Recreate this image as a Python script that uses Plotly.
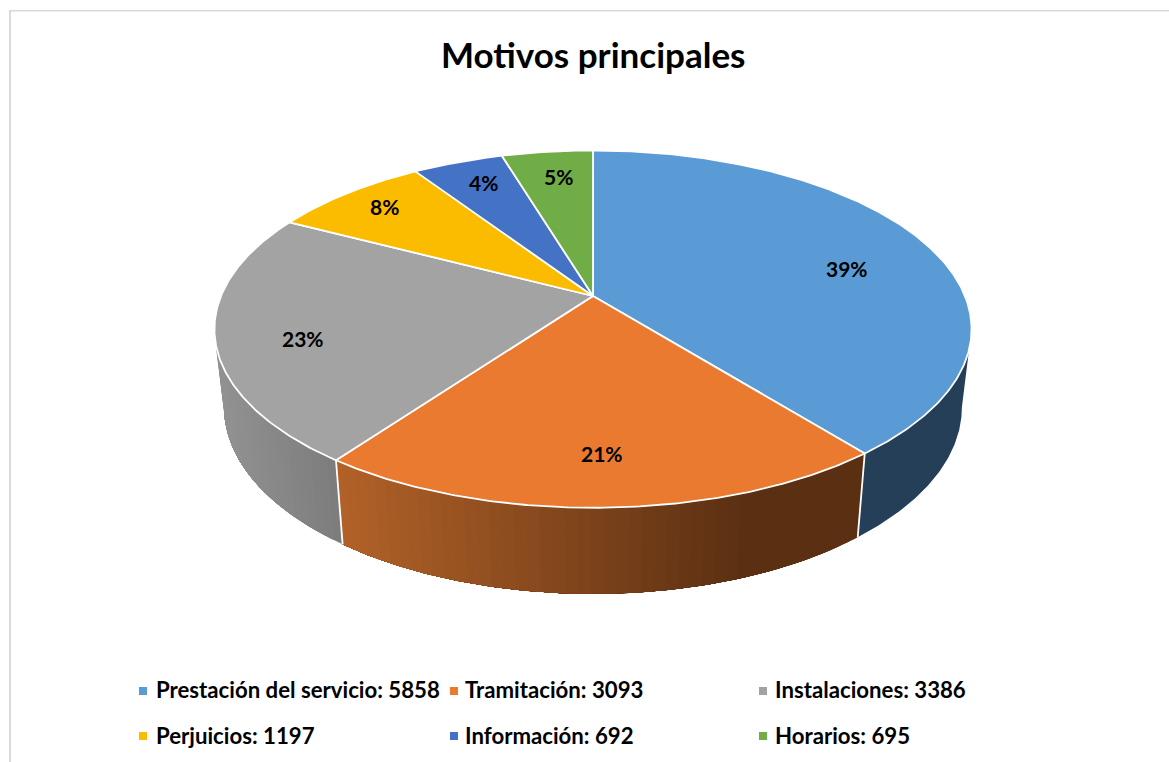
import numpy as np
import plotly.graph_objects as go

# ---- data ----
categories = ["Prestación del servicio", "Tramitación", "Instalaciones", "Perjuicios", "Información", "Horarios"]
values = [5858, 3093, 3386, 1197, 692, 695]
percent_labels = ["39%", "21%", "23%", "8%", "4%", "5%"]
colors = ["#5B9BD5", "#EA7A30", "#A3A3A3", "#FBBC00", "#4472C4", "#70AD47"]

# ---- layout of the drawing (pixel space of the page) ----
W, H = 1169, 762
label_xy = [(847, 268), (602, 453), (303, 338), (384, 206), (483, 182), (558, 176)]
legend_cols = [143, 454, 763]
legend_rows = [691, 736]
legend_text_cols = [154, 463, 773]
legend_text_rows = [689, 735]
FONT = "Lato, Carlito, Calibri, sans-serif"

# perspective projection of the pie's top and bottom discs
CX = 593
TOP = dict(y0=296.0, a=372.0, b=172.5, k=0.1854)
BOT = dict(y0=373.0, a=362.5, b=180.0, k=0.185)


def project(theta, d):
    """theta: radians clockwise from 12 o'clock, on disc d."""
    u, v = np.sin(theta), np.cos(theta)
    w = 1 + d["k"] * v
    return CX + d["a"] * u / w, d["y0"] - d["b"] * v / w


def mix(c1, c2, t):
    t = min(max(t, 0.0), 1.0)
    r = [round(a + (b - a) * t) for a, b in zip(c1, c2)]
    return f"rgb({r[0]},{r[1]},{r[2]})"


def side_color(i, x):
    if i == 0:
        return "rgb(36,63,87)"
    if i == 1:
        return mix((178, 98, 40), (90, 47, 18), (x - 343) / (745 - 343))
    return mix((146, 146, 146), (125, 125, 125), (x - 225) / (340 - 225))


fractions = np.array(values, dtype=float) / sum(values)
edges = np.concatenate([[0.0], np.cumsum(fractions)]) * 2 * np.pi

fig = go.Figure()


def wall(a0, a1, col):
    th = np.linspace(a0, a1, max(4, int((a1 - a0) / np.radians(0.5))))
    xt, yt = project(th, TOP)
    xb, yb = project(th[::-1], BOT)
    fig.add_trace(go.Scatter(x=np.concatenate([xt, xb]), y=np.concatenate([yt, yb]), mode="lines",
                             fill="toself", fillcolor=col, line=dict(width=0),
                             hoverinfo="skip", showlegend=False))


# side wall: visible front part only. Every strip runs on to the end of its slice,
# the next strip paints over it, so no seams appear between the shades.
side_from, side_to = np.radians(100.7), np.radians(259.3)
for i in range(len(values)):
    a0, a1 = max(edges[i], side_from), min(edges[i + 1], side_to)
    if a1 <= a0:
        continue
    n = 1 if i == 0 else max(2, int((a1 - a0) / np.radians(1.6)))
    steps = np.linspace(a0, a1, n + 1)
    for s0, s1 in zip(steps[:-1], steps[1:]):
        xm, _ = project((s0 + s1) / 2, BOT)
        wall(s0, a1, side_color(i, float(xm)))

# seams of the side wall
for e in edges[1:-1]:
    if side_from < e < side_to:
        xt, yt = project(e, TOP)
        xb, yb = project(e, BOT)
        fig.add_trace(go.Scatter(x=[xt, xb], y=[yt, yb], mode="lines",
                                 line=dict(color="white", width=1.8), hoverinfo="skip", showlegend=False))

# top of the pie
for i, name in enumerate(categories):
    th = np.linspace(edges[i], edges[i + 1], max(8, int((edges[i + 1] - edges[i]) / np.radians(0.5))))
    xr, yr = project(th, TOP)
    x = np.concatenate([[CX], xr, [CX]])
    y = np.concatenate([[TOP["y0"]], yr, [TOP["y0"]]])
    fig.add_trace(go.Scatter(x=x, y=y, mode="lines", fill="toself", fillcolor=colors[i],
                             line=dict(color="white", width=1.8), name=name,
                             hovertemplate=f"{name}: {values[i]}<extra></extra>", showlegend=False))

annotations = [dict(text="<b>Motivos principales</b>", x=593, y=54, xref="x", yref="y", showarrow=False,
                    font=dict(family=FONT, size=35, color="black"))]
for (lx, ly), t in zip(label_xy, percent_labels):
    annotations.append(dict(text=f"<b>{t}</b>", x=lx, y=ly, xref="x", yref="y", showarrow=False,
                            font=dict(family=FONT, size=21, color="black")))

# legend
mx, my = [], []
for i, (name, v) in enumerate(zip(categories, values)):
    mx.append(legend_cols[i % 3])
    my.append(legend_rows[i // 3])
    annotations.append(dict(text=f"<b>{name}: {v}</b>", x=legend_text_cols[i % 3], y=legend_text_rows[i // 3],
                            xref="x", yref="y", xanchor="left", showarrow=False,
                            font=dict(family=FONT, size=22.2, color="black")))
fig.add_trace(go.Scatter(x=mx, y=my, mode="markers", hoverinfo="skip", showlegend=False,
                         marker=dict(symbol="square", size=8, color=colors, line=dict(width=0))))

shapes = [
    dict(type="line", xref="x", yref="y", x0=10, x1=10, y0=10, y1=H, line=dict(color="#D9D9D9", width=2)),
    dict(type="line", xref="x", yref="y", x0=10, x1=W, y0=10.7, y1=10.7, line=dict(color="#D9D9D9", width=1.5)),
]

fig.update_layout(
    width=W, height=H, margin=dict(l=0, r=0, t=0, b=0),
    paper_bgcolor="white", plot_bgcolor="white", showlegend=False,
    xaxis=dict(range=[0, W], visible=False, fixedrange=True),
    yaxis=dict(range=[H, 0], visible=False, fixedrange=True),
    annotations=annotations, shapes=shapes,
)
fig.write_html("out.html", config=dict(displayModeBar=False),
               post_script="document.body.style.margin='0';document.body.style.overflow='hidden';")
